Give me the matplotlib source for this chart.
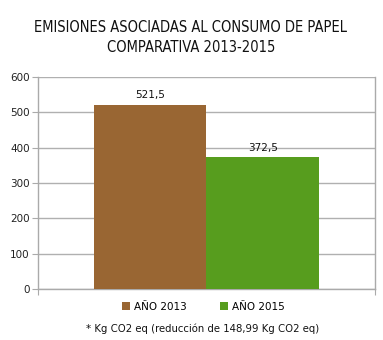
import matplotlib.pyplot as plt
import numpy as np

years = ['AÑO 2013', 'AÑO 2015']
values = [521.5, 372.5]
value_labels = ['521,5', '372,5']
colors = ['#996633', '#579D1E']
yticks = [0, 100, 200, 300, 400, 500, 600]

fig = plt.figure(figsize=(3.83, 3.4), dpi=100)
ax = fig.add_axes([38 / 383, 1 - 289 / 340, 337 / 383, 212 / 340])

# two bars side by side filling the middle two thirds of the single category
width = 0.334
offsets = np.array([-0.5, 0.5]) * width
for off, v, lab, c, name in zip(offsets, values, value_labels, colors, years):
    ax.bar(off, v, width=width, color=c, label=name, zorder=3)
    ax.text(off, v + 12, lab, ha='center', va='bottom', fontsize=7.5,
            color='#111111')

ax.set_xlim(-0.5, 0.5)
ax.set_ylim(0, 600)
ax.set_yticks(yticks)
ax.set_yticklabels([str(t) for t in yticks], fontsize=7.5, color='#222222')
ax.set_xticks([-0.5, 0.5])
ax.set_xticklabels(['', ''])
ax.tick_params(axis='y', length=4, color='#aaaaaa', pad=2)
ax.tick_params(axis='x', length=4, color='#aaaaaa', direction='out')
ax.grid(axis='y', color='#b0b0b0', linewidth=1, zorder=0)
ax.spines['top'].set_visible(False)
for side in ['left', 'right', 'bottom']:
    ax.spines[side].set_color('#aaaaaa')
    ax.spines[side].set_linewidth(1)

fig.text(191 / 383, 1 - 28 / 340, 'EMISIONES ASOCIADAS AL CONSUMO DE PAPEL',
         ha='center', va='center', fontsize=10.5, family='DejaVu Sans',
         stretch='condensed', color='#111111')
fig.text(191 / 383, 1 - 48 / 340, 'COMPARATIVA 2013-2015',
         ha='center', va='center', fontsize=10.5, family='DejaVu Sans',
         stretch='condensed', color='#111111')

fig.legend(loc='center', bbox_to_anchor=(203 / 383, 1 - 307 / 340), ncol=2,
           frameon=False, fontsize=7.5, handlelength=0.8, handleheight=0.8,
           handletextpad=0.35, columnspacing=3.2)

fig.text(203 / 383, 1 - 329 / 340, '* Kg CO2 eq (reducción de 148,99 Kg CO2 eq)',
         ha='center', va='center', fontsize=7.3, color='#111111')

fig.savefig('out.png', dpi=100)
